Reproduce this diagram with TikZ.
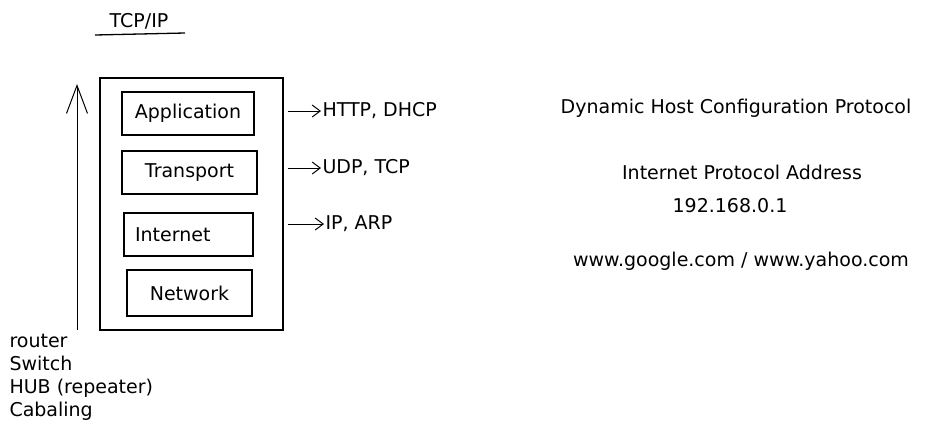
\documentclass[tikz,border=0pt]{standalone}
\usepackage{fontspec}
\setmainfont{DejaVu Sans}
\usetikzlibrary{arrows.meta}
\begin{document}
\begin{tikzpicture}[x=1pt,y=-1pt,line width=1pt,
  font=\fontsize{19}{23}\selectfont,
  layer/.style={draw,line width=1.2pt,minimum height=43pt,inner sep=0pt},
  barb/.style={-{Straight Barb[length=8pt,width=12pt]}}]
\useasboundingbox (0,0) rectangle (926,437);
% title
\node (title) at (139,21) {TCP/IP};
\coordinate (ul1) at (95,35);
\coordinate (ul2) at (185,33);
\draw[line width=1.3pt] (ul1) -- (ul2);
% the stack
\node[layer,minimum width=183pt,minimum height=252pt] (stack) at (191.5,204) {};
\node[layer,minimum width=132pt] (app) at (188,113.5) {Application};
\node[layer,minimum width=135pt] (trans) at (189.5,172.5) {Transport};
\node[layer,text width=107pt,align=left,inner xsep=11pt] (inet) at (188.5,234.5) {Internet};
\node[layer,minimum width=125pt,minimum height=46pt] (net) at (189.5,293) {Network};
% up arrow
\coordinate (low) at (77,330);
\coordinate (high) at (77,84);
\draw[-{Straight Barb[length=28pt,width=21pt]}] (low) -- (high);
% protocols
\node[anchor=west,inner sep=1pt] (http) at (321,111) {HTTP, DHCP};
\node[anchor=west,inner sep=1pt] (udp) at (321,168) {UDP, TCP};
\node[anchor=west,inner sep=1pt] (ip) at (324,224) {IP, ARP};
\draw[barb] ([xshift=4pt]stack.east |- http.west) -- (http.west);
\draw[barb] ([xshift=4pt]stack.east |- udp.west) -- (udp.west);
\draw[barb] ([xshift=4pt]stack.east |- ip.west) -- (ip.west);
% notes
\node (dhcp) at (736,108) {Dynamic Host Configuration Protocol};
\node (addr) at (742,172) {Internet Protocol Address};
\node (num) at (730,206) {192.168.0.1};
\node (www) at (741,261) {www.google.com / www.yahoo.com};
\node[anchor=north west,align=left,inner sep=0pt] (devs) at (9,334)
  {router\\Switch\\HUB (repeater)\\Cabaling};
\end{tikzpicture}
\end{document}
